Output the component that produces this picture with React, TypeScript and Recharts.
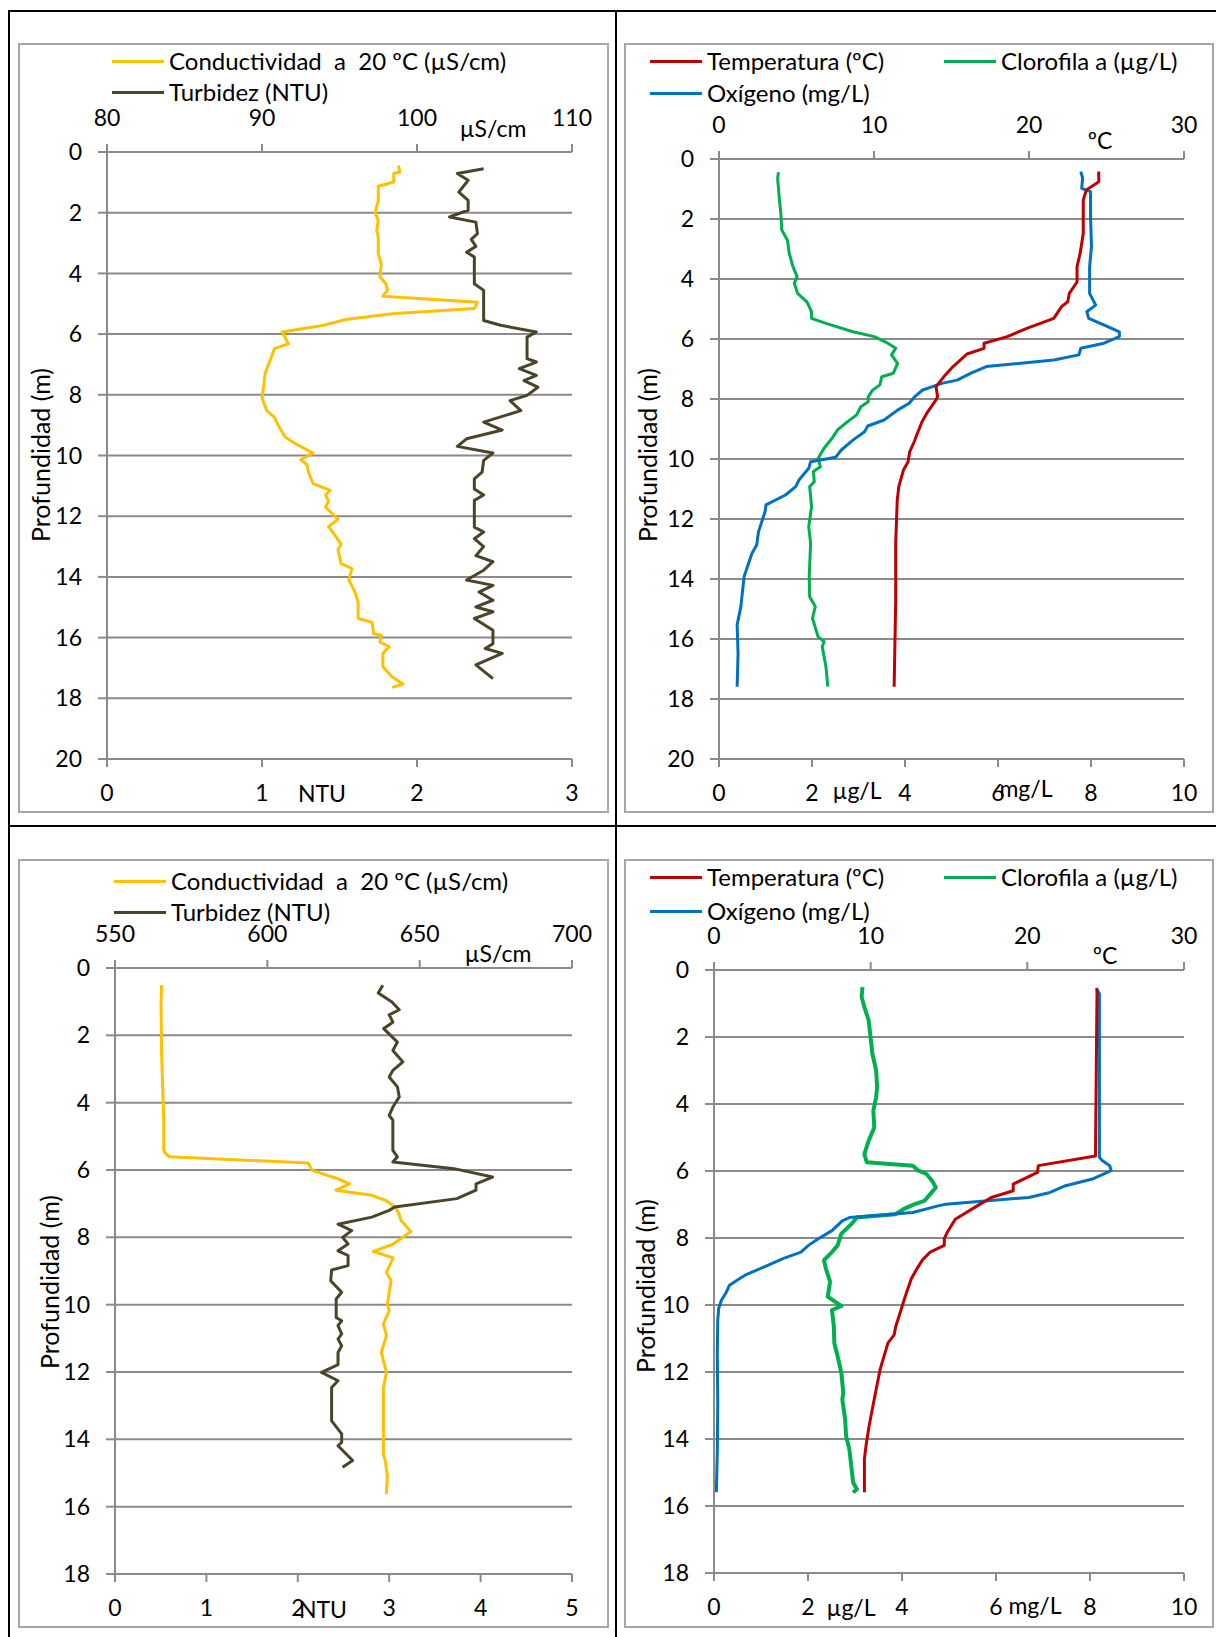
import React from 'react';
import { LineChart, Line, XAxis, YAxis, CartesianGrid } from 'recharts';

type Pt = [number, number]; // [profundidad (m), valor]

// --- Perfil 1: conductividad / turbidez ---
const COND_A: Pt[] = [
  [0.45, 98.8], [0.66, 98.9], [0.71, 98.5], [0.99, 98.5], [1.13, 97.5], [1.6, 97.5], [2.0, 97.3],
  [2.25, 97.5], [2.6, 97.4], [2.8, 97.5], [3.35, 97.5], [3.7, 97.7], [4.1, 97.6], [4.35, 98.0],
  [4.55, 98.1], [4.75, 97.8], [4.95, 103.9], [5.16, 103.7], [5.33, 98.4], [5.53, 95.3], [5.71, 94.0],
  [5.93, 91.3], [6.32, 91.7], [6.48, 90.8], [6.76, 90.6], [7.3, 90.2], [7.75, 90.1], [8.1, 90.0],
  [8.52, 90.3], [8.74, 90.8], [8.96, 91.0], [9.23, 91.3], [9.4, 91.5], [9.62, 92.2], [9.92, 93.3],
  [10.14, 92.5], [10.3, 92.9], [10.55, 93.0], [10.93, 93.3], [11.15, 94.4], [11.3, 94.1], [11.5, 94.3],
  [11.7, 94.1], [12.1, 94.9], [12.34, 94.3], [12.7, 94.8], [12.93, 95.1], [13.1, 94.9], [13.56, 95.1],
  [13.73, 95.8], [14.1, 95.6], [14.5, 96.0], [14.82, 96.2], [15.37, 96.2], [15.5, 97.1], [15.87, 97.2],
  [15.92, 97.7], [16.14, 97.6], [16.3, 98.2], [16.52, 97.8], [16.96, 97.8], [17.3, 98.4], [17.53, 99.1],
  [17.64, 98.4],
];
const TURB_A: Pt[] = [
  [0.55, 2.43], [0.71, 2.26], [0.93, 2.33], [1.32, 2.27], [1.59, 2.33], [1.92, 2.33], [2.14, 2.21],
  [2.31, 2.38], [2.69, 2.39], [2.88, 2.35], [3.11, 2.38], [3.3, 2.32], [3.46, 2.37], [4.34, 2.37],
  [4.56, 2.43], [5.55, 2.43], [5.71, 2.54], [5.93, 2.77], [6.1, 2.71], [6.81, 2.71], [6.92, 2.77],
  [7.14, 2.66], [7.36, 2.77], [7.53, 2.69], [7.75, 2.78], [8.02, 2.71], [8.19, 2.6], [8.52, 2.67],
  [8.9, 2.43], [9.16, 2.55], [9.45, 2.32], [9.7, 2.26], [9.92, 2.49], [10.16, 2.43], [10.55, 2.42],
  [10.77, 2.37], [11.1, 2.37], [11.3, 2.43], [11.48, 2.37], [12.36, 2.37], [12.52, 2.43], [12.74, 2.37],
  [13.0, 2.43], [13.3, 2.38], [13.5, 2.49], [13.78, 2.43], [14.1, 2.32], [14.28, 2.49], [14.5, 2.4],
  [14.77, 2.49], [14.99, 2.38], [15.15, 2.49], [15.37, 2.37], [15.76, 2.49], [16.2, 2.49], [16.36, 2.44],
  [16.52, 2.55], [16.9, 2.38], [17.35, 2.49],
];

// --- Perfil 2: temperatura / clorofila / oxígeno ---
const TEMP_A: Pt[] = [
  [0.42, 24.5], [0.76, 24.5], [1.03, 23.7], [1.37, 23.5], [2.48, 23.5], [3.14, 23.3], [3.59, 23.1],
  [4.1, 23.1], [4.48, 22.6], [4.76, 22.5], [4.92, 22.1], [5.31, 21.6], [5.64, 19.9], [5.92, 18.6],
  [6.14, 17.1], [6.31, 17.1], [6.5, 16.0], [6.92, 15.1], [7.26, 14.5], [7.59, 14.0], [7.92, 14.1],
  [8.03, 14.0], [8.48, 13.4], [8.76, 13.1], [9.14, 12.8], [9.42, 12.6], [9.76, 12.3], [10.09, 12.2],
  [10.37, 11.9], [10.92, 11.6], [11.37, 11.5], [12.81, 11.4], [14.7, 11.4], [17.59, 11.3],
];
const CLOR_A: Pt[] = [
  [0.44, 1.28], [0.64, 1.26], [1.37, 1.3], [1.81, 1.33], [2.37, 1.35], [2.7, 1.47], [3.14, 1.51],
  [3.59, 1.59], [3.92, 1.68], [4.14, 1.62], [4.48, 1.69], [4.76, 1.89], [5.09, 1.99], [5.31, 1.99],
  [5.48, 2.3], [5.76, 2.88], [5.92, 3.34], [6.14, 3.63], [6.31, 3.8], [6.53, 3.71], [6.81, 3.84],
  [7.14, 3.75], [7.26, 3.5], [7.53, 3.46], [7.71, 3.3], [7.92, 3.21], [8.09, 3.21], [8.26, 3.05],
  [8.53, 2.96], [8.81, 2.72], [9.03, 2.55], [9.31, 2.43], [9.64, 2.26], [9.98, 2.13], [10.26, 2.18],
  [10.42, 2.03], [10.76, 2.05], [10.92, 1.95], [11.59, 1.99], [12.26, 1.93], [12.81, 1.97], [13.92, 1.94],
  [14.59, 1.95], [14.92, 2.07], [15.31, 2.01], [15.92, 2.13], [16.09, 2.26], [16.26, 2.22], [16.92, 2.3],
  [17.59, 2.34],
];
const OXI_A: Pt[] = [
  [0.42, 7.78], [0.64, 7.82], [0.98, 7.8], [1.09, 7.99], [1.92, 7.99], [2.92, 8.01], [3.59, 7.97],
  [4.48, 7.97], [4.87, 8.1], [5.09, 7.91], [5.31, 7.95], [5.59, 8.36], [5.76, 8.61], [5.92, 8.61],
  [6.14, 8.28], [6.31, 7.78], [6.53, 7.74], [6.7, 7.2], [6.92, 5.75], [7.14, 5.42], [7.37, 5.12],
  [7.48, 4.79], [7.7, 4.38], [7.92, 4.21], [8.14, 4.09], [8.37, 3.84], [8.7, 3.55], [8.9, 3.2],
  [9.09, 3.13], [9.37, 2.88], [9.7, 2.63], [9.94, 2.51], [10.09, 1.97], [10.31, 1.93], [10.7, 1.72],
  [10.92, 1.65], [11.2, 1.43], [11.53, 1.01], [11.76, 0.99], [12.42, 0.85], [12.87, 0.81], [13.14, 0.71],
  [13.92, 0.54], [14.92, 0.47], [15.53, 0.39], [16.48, 0.41], [17.59, 0.39],
];

// --- Perfil 3: conductividad / turbidez ---
const COND_B: Pt[] = [
  [0.51, 565.3], [1.06, 565.1], [2.54, 565.3], [4.52, 566.0], [5.42, 566.0], [5.51, 566.6], [5.61, 567.9],
  [5.79, 613.4], [6.01, 614.7], [6.26, 623.1], [6.41, 627.0], [6.6, 622.5], [6.75, 634.2], [6.9, 638.7],
  [7.1, 642.0], [7.3, 643.2], [7.5, 643.9], [7.83, 647.1], [8.2, 641.3], [8.42, 634.8], [8.61, 641.3],
  [9.04, 639.1], [9.29, 640.6], [9.98, 639.4], [10.18, 640.0], [10.57, 638.1], [10.92, 639.1],
  [11.42, 637.4], [12.01, 639.1], [12.46, 638.1], [14.44, 638.1], [14.63, 638.7], [15.08, 639.4],
  [15.62, 639.1],
];
const TURB_B: Pt[] = [
  [0.51, 2.93], [0.74, 2.88], [1.01, 3.03], [1.24, 3.11], [1.39, 3.0], [1.61, 3.04], [1.8, 2.94],
  [2.2, 3.09], [2.45, 3.04], [2.79, 3.15], [3.04, 3.04], [3.24, 3.0], [3.53, 3.09], [3.83, 3.11],
  [4.13, 3.04], [4.38, 3.0], [4.52, 3.04], [5.42, 3.04], [5.61, 3.09], [5.76, 3.04], [5.96, 3.71],
  [6.21, 4.13], [6.41, 3.95], [6.6, 3.95], [6.85, 3.74], [7.1, 3.06], [7.2, 3.0], [7.4, 2.81],
  [7.61, 2.44], [7.8, 2.59], [8.0, 2.49], [8.2, 2.55], [8.4, 2.44], [8.54, 2.55], [8.84, 2.55],
  [8.97, 2.37], [9.29, 2.36], [9.63, 2.48], [9.83, 2.42], [10.38, 2.42], [10.48, 2.48], [10.62, 2.44],
  [10.87, 2.48], [11.02, 2.44], [11.22, 2.48], [11.42, 2.44], [11.78, 2.44], [12.01, 2.26], [12.26, 2.44],
  [12.46, 2.37], [13.45, 2.37], [13.84, 2.48], [14.09, 2.48], [14.19, 2.44], [14.63, 2.6], [14.83, 2.49],
];

// --- Perfil 4: temperatura / clorofila / oxígeno ---
const TEMP_B: Pt[] = [
  [0.56, 24.45], [3.0, 24.4], [5.55, 24.35], [5.84, 20.7], [6.04, 20.65], [6.39, 19.1], [6.59, 19.1],
  [6.79, 17.7], [7.04, 16.8], [7.44, 15.4], [7.82, 14.9], [8.02, 14.7], [8.22, 14.7], [8.42, 13.8],
  [8.66, 13.3], [8.96, 12.9], [9.21, 12.6], [9.75, 12.2], [10.35, 11.8], [10.64, 11.6], [10.89, 11.5],
  [11.14, 11.1], [11.93, 10.6], [12.52, 10.35], [13.12, 10.1], [13.61, 9.9], [14.21, 9.7], [14.6, 9.6],
  [15.59, 9.6],
];
const CLOR_B: Pt[] = [
  [0.51, 3.16], [0.8, 3.14], [1.11, 3.2], [1.5, 3.29], [2.0, 3.33], [2.5, 3.37], [3.0, 3.45], [3.5, 3.47],
  [3.8, 3.45], [4.2, 3.39], [4.7, 3.41], [5.1, 3.29], [5.49, 3.2], [5.74, 3.25], [5.84, 4.23], [5.99, 4.35],
  [6.09, 4.52], [6.29, 4.64], [6.49, 4.72], [6.69, 4.6], [6.89, 4.48], [6.99, 4.27], [7.14, 4.03],
  [7.29, 3.86], [7.39, 3.04], [7.59, 2.92], [7.87, 2.71], [8.22, 2.63], [8.42, 2.51], [8.66, 2.34],
  [8.91, 2.38], [9.31, 2.47], [9.75, 2.42], [10.03, 2.71], [10.15, 2.51], [10.64, 2.55], [11.14, 2.56],
  [11.53, 2.63], [12.03, 2.71], [12.62, 2.75], [12.82, 2.73], [13.42, 2.79], [13.91, 2.81], [14.31, 2.88],
  [14.8, 2.92], [15.3, 2.96], [15.5, 3.04], [15.6, 2.96],
];
const OXI_B: Pt[] = [
  [0.54, 8.13], [0.71, 8.2], [5.59, 8.2], [5.69, 8.26], [5.84, 8.42], [5.99, 8.45], [6.24, 8.05],
  [6.44, 7.48], [6.64, 7.15], [6.79, 6.7], [6.99, 4.93], [7.04, 4.77], [7.24, 4.23], [7.39, 2.88],
  [7.49, 2.73], [7.78, 2.51], [8.02, 2.22], [8.22, 2.01], [8.42, 1.85], [8.61, 1.48], [8.86, 1.07],
  [9.11, 0.66], [9.26, 0.49], [9.41, 0.33], [9.65, 0.25], [9.85, 0.16], [10.1, 0.1], [10.45, 0.08],
  [11.44, 0.07], [12.92, 0.08], [14.4, 0.07], [15.59, 0.05],
];

const DEPTH_TICKS_A = [0, 2, 4, 6, 8, 10, 12, 14, 16, 18, 20];
const DEPTH_TICKS_B = [0, 2, 4, 6, 8, 10, 12, 14, 16, 18];
const COND_TICKS_A = [80, 90, 100, 110];
const NTU_TICKS_A = [0, 1, 2, 3];
const COND_TICKS_B = [550, 600, 650, 700];
const NTU_TICKS_B = [0, 1, 2, 3, 4, 5];
const TEMP_TICKS = [0, 10, 20, 30];
const MG_TICKS = [0, 2, 4, 6, 8, 10];

const FONT = 'Lato, "Open Sans", sans-serif';
const GRAY = '#8a8a8a';
const C_COND = '#FFC000';
const C_TURB = '#4A452A';
const C_TEMP = '#C00000';
const C_CLOR = '#00B050';
const C_OXI = '#0070C0';

const YW = 60; // ancho eje Y
const XH = 40; // alto ejes X

interface Series { name: string; data: Pt[]; axis: 'top' | 'bottom'; color: string; width?: number }
interface LegendItem { name: string; color: string; x: number; y: number }
interface Unit { text: string; x: number; y: number }

interface PanelProps {
  frame: [number, number, number, number]; // izq, arriba, der, abajo (px de página)
  plot: [number, number, number, number];
  depthTicks: number[];
  topTicks: number[];
  bottomTicks: number[];
  series: Series[];
  legend: LegendItem[];
  units: Unit[];
  yLabel: [number, number];
}

function Panel({ frame, plot, depthTicks, topTicks, bottomTicks, series, legend, units, yLabel }: PanelProps) {
  const [fl, ft, fr, fb] = frame;
  const [pl, pt, pr, pb] = plot;
  const maxDepth = depthTicks[depthTicks.length - 1];
  const tickStyle = { fill: '#000', fontSize: 23, fontFamily: FONT };

  return (
    <>
      <div style={{
        position: 'absolute', left: fl, top: ft, width: fr - fl, height: fb - ft,
        border: '2px solid #a6a6a6', boxSizing: 'border-box',
      }} />
      <div style={{ position: 'absolute', left: fl, top: ft }}>
        <LineChart
          width={fr - fl}
          height={fb - ft}
          layout="vertical"
          margin={{ left: pl - fl - YW, top: pt - ft - XH, right: fr - pr, bottom: fb - pb - XH }}
        >
          <CartesianGrid xAxisId="bottom" yAxisId="depth" vertical={false} stroke={GRAY} strokeWidth={2} />
          <XAxis
            xAxisId="top" orientation="top" type="number" height={XH}
            domain={[topTicks[0], topTicks[topTicks.length - 1]]} ticks={topTicks} interval={0}
            allowDataOverflow tick={tickStyle} tickSize={8} tickMargin={18}
            axisLine={{ stroke: GRAY, strokeWidth: 2 }} tickLine={{ stroke: GRAY, strokeWidth: 2 }}
          />
          <XAxis
            xAxisId="bottom" orientation="bottom" type="number" height={XH}
            domain={[bottomTicks[0], bottomTicks[bottomTicks.length - 1]]} ticks={bottomTicks} interval={0}
            allowDataOverflow tick={tickStyle} tickSize={8} tickMargin={18}
            axisLine={{ stroke: GRAY, strokeWidth: 2 }} tickLine={{ stroke: GRAY, strokeWidth: 2 }}
          />
          {/* en layout vertical el eje numérico Y ya crece hacia abajo */}
          <YAxis
            yAxisId="depth" dataKey="d" type="number" width={YW}
            domain={[0, maxDepth]} ticks={depthTicks} interval={0} allowDataOverflow
            tick={tickStyle} tickSize={9} tickMargin={16}
            axisLine={{ stroke: GRAY, strokeWidth: 2 }} tickLine={{ stroke: GRAY, strokeWidth: 2 }}
          />
          <YAxis
            yAxisId="right" orientation="right" type="number" width={0}
            domain={[0, maxDepth]} tick={false} tickLine={false}
            axisLine={{ stroke: '#000', strokeWidth: 2 }}
          />
          {series.map((s) => (
            <Line
              key={s.name}
              data={s.data.map(([d, v]) => ({ d, v }))}
              dataKey="v"
              xAxisId={s.axis}
              yAxisId="depth"
              type="linear"
              stroke={s.color}
              strokeWidth={s.width ?? 3}
              strokeLinejoin="round"
              dot={false}
              isAnimationActive={false}
            />
          ))}
        </LineChart>
      </div>
      {legend.map((l) => (
        <div key={l.name} style={{ position: 'absolute', left: l.x, top: l.y, transform: 'translateY(-50%)', display: 'flex', alignItems: 'center' }}>
          <span style={{ display: 'inline-block', width: 52, height: 3, background: l.color, marginRight: 5 }} />
          <span style={{ fontFamily: FONT, fontSize: 24, lineHeight: 1, whiteSpace: 'pre', color: '#000' }}>{l.name}</span>
        </div>
      ))}
      {units.map((u) => (
        <div key={u.text + u.x} style={{
          position: 'absolute', left: u.x, top: u.y, transform: 'translate(-50%, -50%)',
          fontFamily: FONT, fontSize: 23, lineHeight: 1, whiteSpace: 'pre', color: '#000',
        }}>{u.text}</div>
      ))}
      <div style={{
        position: 'absolute', left: yLabel[0], top: yLabel[1], transform: 'translate(-50%, -50%) rotate(-90deg)',
        fontFamily: FONT, fontSize: 25, lineHeight: 1, whiteSpace: 'pre', color: '#000',
      }}>Profundidad (m)</div>
    </>
  );
}

export default function App() {
  const line = (style: React.CSSProperties) => (
    <div style={{ position: 'absolute', background: '#000', ...style }} />
  );
  return (
    <div style={{ position: 'absolute', left: 0, top: 0, width: 1216, height: 1637, background: '#fff', overflow: 'hidden' }}>
      {line({ left: 8, top: 10, width: 1208, height: 2 })}
      {line({ left: 8, top: 10, width: 2, height: 1627 })}
      {line({ left: 615, top: 10, width: 2, height: 1627 })}
      {line({ left: 8, top: 825, width: 1208, height: 2 })}

      <Panel
        frame={[18, 43, 609, 813]}
        plot={[107, 152, 572, 759]}
        depthTicks={DEPTH_TICKS_A}
        topTicks={COND_TICKS_A}
        bottomTicks={NTU_TICKS_A}
        series={[
          { name: 'cond', data: COND_A, axis: 'top', color: C_COND },
          { name: 'turb', data: TURB_A, axis: 'bottom', color: C_TURB },
        ]}
        legend={[
          { name: 'Conductividad  a  20 ºC (µS/cm)', color: C_COND, x: 112, y: 61 },
          { name: 'Turbidez (NTU)', color: C_TURB, x: 112, y: 92 },
        ]}
        units={[
          { text: 'µS/cm', x: 493, y: 128 },
          { text: 'NTU', x: 322, y: 793 },
        ]}
        yLabel={[40, 455]}
      />
      <Panel
        frame={[624, 43, 1214, 813]}
        plot={[719, 159, 1184, 759]}
        depthTicks={DEPTH_TICKS_A}
        topTicks={TEMP_TICKS}
        bottomTicks={MG_TICKS}
        series={[
          { name: 'clor', data: CLOR_A, axis: 'bottom', color: C_CLOR },
          { name: 'oxi', data: OXI_A, axis: 'bottom', color: C_OXI },
          { name: 'temp', data: TEMP_A, axis: 'top', color: C_TEMP },
        ]}
        legend={[
          { name: 'Temperatura (ºC)', color: C_TEMP, x: 650, y: 61 },
          { name: 'Clorofila a (µg/L)', color: C_CLOR, x: 944, y: 61 },
          { name: 'Oxígeno (mg/L)', color: C_OXI, x: 650, y: 93 },
        ]}
        units={[
          { text: 'ºC', x: 1100, y: 140 },
          { text: 'µg/L', x: 857, y: 790 },
          { text: 'mg/L', x: 1026, y: 788 },
        ]}
        yLabel={[647, 455]}
      />
      <Panel
        frame={[18, 859, 609, 1628]}
        plot={[115, 968, 572, 1574]}
        depthTicks={DEPTH_TICKS_B}
        topTicks={COND_TICKS_B}
        bottomTicks={NTU_TICKS_B}
        series={[
          { name: 'cond', data: COND_B, axis: 'top', color: C_COND },
          { name: 'turb', data: TURB_B, axis: 'bottom', color: C_TURB },
        ]}
        legend={[
          { name: 'Conductividad  a  20 ºC (µS/cm)', color: C_COND, x: 114, y: 881 },
          { name: 'Turbidez (NTU)', color: C_TURB, x: 114, y: 912 },
        ]}
        units={[
          { text: 'µS/cm', x: 498, y: 953 },
          { text: 'NTU', x: 323, y: 1609 },
        ]}
        yLabel={[49, 1282]}
      />
      <Panel
        frame={[624, 859, 1214, 1628]}
        plot={[714, 970, 1184, 1573]}
        depthTicks={DEPTH_TICKS_B}
        topTicks={TEMP_TICKS}
        bottomTicks={MG_TICKS}
        series={[
          { name: 'clor', data: CLOR_B, axis: 'bottom', color: C_CLOR, width: 4 },
          { name: 'oxi', data: OXI_B, axis: 'bottom', color: C_OXI },
          { name: 'temp', data: TEMP_B, axis: 'top', color: C_TEMP },
        ]}
        legend={[
          { name: 'Temperatura (ºC)', color: C_TEMP, x: 650, y: 877 },
          { name: 'Clorofila a (µg/L)', color: C_CLOR, x: 944, y: 877 },
          { name: 'Oxígeno (mg/L)', color: C_OXI, x: 650, y: 911 },
        ]}
        units={[
          { text: 'ºC', x: 1105, y: 955 },
          { text: 'µg/L', x: 851, y: 1607 },
          { text: 'mg/L', x: 1035, y: 1605 },
        ]}
        yLabel={[645, 1286]}
      />
    </div>
  );
}
